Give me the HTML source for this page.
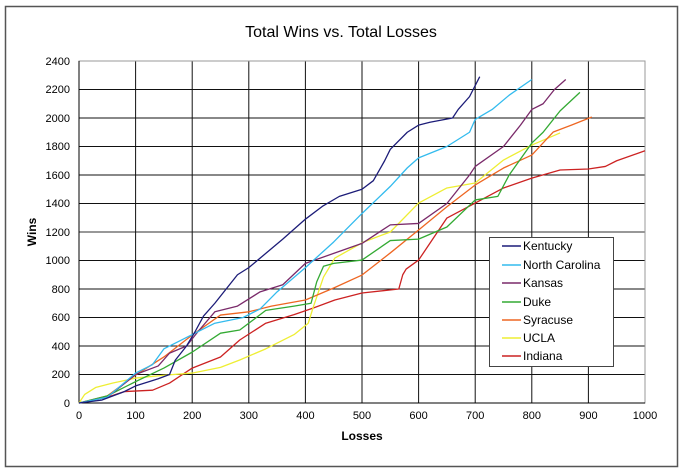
<!DOCTYPE html>
<html><head><meta charset="utf-8"><style>
html,body{margin:0;padding:0;background:#fff;}
svg{display:block;font-family:"Liberation Sans",sans-serif;}
</style></head><body>
<svg width="685" height="471" viewBox="0 0 685 471">
<rect x="0" y="0" width="685" height="471" fill="#fff"/>
<rect x="5.5" y="6.5" width="672" height="460" fill="#fff" stroke="#555" stroke-width="1.5"/>
<text x="341" y="37" text-anchor="middle" font-size="16" fill="#000">Total Wins vs. Total Losses</text>
<g stroke="#111" stroke-width="1">
<line x1="79" y1="374.5" x2="645" y2="374.5"/><line x1="79" y1="346" x2="645" y2="346"/>
<line x1="79" y1="317.5" x2="645" y2="317.5"/><line x1="79" y1="289" x2="645" y2="289"/>
<line x1="79" y1="260.5" x2="645" y2="260.5"/><line x1="79" y1="232" x2="645" y2="232" stroke="#777" stroke-width="1.5"/>
<line x1="79" y1="203.5" x2="645" y2="203.5"/><line x1="79" y1="175" x2="645" y2="175"/>
<line x1="79" y1="146.5" x2="645" y2="146.5"/><line x1="79" y1="118" x2="645" y2="118"/>
<line x1="79" y1="89.5" x2="645" y2="89.5"/>
<line x1="135.6" y1="61" x2="135.6" y2="403"/><line x1="192.2" y1="61" x2="192.2" y2="403"/>
<line x1="248.8" y1="61" x2="248.8" y2="403"/><line x1="305.4" y1="61" x2="305.4" y2="403"/>
<line x1="362" y1="61" x2="362" y2="403"/><line x1="418.6" y1="61" x2="418.6" y2="403"/>
<line x1="475.2" y1="61" x2="475.2" y2="403"/><line x1="531.8" y1="61" x2="531.8" y2="403"/>
<line x1="588.4" y1="61" x2="588.4" y2="403"/>
</g>
<rect x="79" y="61" width="566" height="342" fill="none" stroke="#999" stroke-width="1"/>
<line x1="79" y1="61" x2="79" y2="403" stroke="#000"/>
<line x1="79" y1="403" x2="645" y2="403" stroke="#000"/>
<g font-size="11" fill="#000" text-anchor="end">
<text x="70" y="407">0</text><text x="70" y="378">200</text><text x="70" y="350">400</text>
<text x="70" y="321">600</text><text x="70" y="293">800</text><text x="70" y="264">1000</text>
<text x="70" y="236">1200</text><text x="70" y="207">1400</text><text x="70" y="179">1600</text>
<text x="70" y="150">1800</text><text x="70" y="122">2000</text><text x="70" y="93">2200</text>
<text x="70" y="65">2400</text>
</g>
<g font-size="11" fill="#000" text-anchor="middle">
<text x="79" y="419">0</text><text x="135.6" y="419">100</text><text x="192.2" y="419">200</text>
<text x="248.8" y="419">300</text><text x="305.4" y="419">400</text><text x="362" y="419">500</text>
<text x="418.6" y="419">600</text><text x="475.2" y="419">700</text><text x="531.8" y="419">800</text>
<text x="588.4" y="419">900</text><text x="645" y="419">1000</text>
</g>
<text x="362" y="440" text-anchor="middle" font-size="12" font-weight="bold">Losses</text>
<text transform="translate(36,232) rotate(-90)" text-anchor="middle" font-size="12" font-weight="bold">Wins</text>
<g transform="matrix(0.566,0,0,-0.1425,79,403)" fill="none" stroke-width="1.3" stroke-linejoin="round">
<polyline vector-effect="non-scaling-stroke" stroke="#cc2222" points="0,0 50,40 80,80 130,90 160,140 200,245 250,323 284,442 330,560 380,620 414,667 452,723 500,772 565,800 572,900 578,940 600,1003 650,1298 700,1403 750,1509 800,1578 850,1635 900,1642 930,1660 950,1700 1000,1770"/>
<polyline vector-effect="non-scaling-stroke" stroke="#eeee33" points="0,0 10,60 30,110 60,140 100,175 150,195 200,210 250,250 284,302 330,380 380,480 405,560 414,674 432,884 452,1017 503,1130 550,1200 600,1403 650,1509 700,1544 750,1705 800,1810 850,1895"/>
<polyline vector-effect="non-scaling-stroke" stroke="#ee6622" points="0,0 50,50 100,196 150,323 200,477 250,617 300,640 340,680 400,723 450,807 500,898 550,1053 600,1214 650,1377 700,1530 750,1649 800,1740 838,1902 870,1950 906,2007"/>
<polyline vector-effect="non-scaling-stroke" stroke="#33aa33" points="0,0 50,50 100,150 150,245 200,357 250,490 284,512 330,650 380,680 410,700 420,850 432,960 450,980 500,1003 550,1140 600,1150 650,1235 700,1425 740,1450 760,1600 800,1824 820,1900 850,2050 885,2180"/>
<polyline vector-effect="non-scaling-stroke" stroke="#7a2a6a" points="0,0 50,40 100,200 140,260 160,350 190,400 210,500 240,640 280,680 320,780 360,830 400,980 450,1050 500,1120 550,1250 600,1260 650,1400 690,1600 700,1660 750,1800 780,1950 800,2060 820,2100 840,2200 860,2270"/>
<polyline vector-effect="non-scaling-stroke" stroke="#33bbee" points="0,0 50,40 100,210 130,270 150,380 180,440 200,480 240,560 290,600 320,660 350,780 400,950 450,1130 500,1330 550,1520 580,1650 600,1720 650,1800 690,1900 700,1990 730,2060 760,2160 800,2270"/>
<polyline vector-effect="non-scaling-stroke" stroke="#1c1c78" points="0,0 40,20 80,80 100,120 140,170 160,200 170,300 190,400 205,500 220,610 240,700 280,900 300,950 330,1050 360,1150 400,1290 430,1380 460,1450 500,1500 520,1560 540,1700 550,1780 580,1900 600,1950 620,1970 660,2000 670,2060 690,2150 708,2290"/>
</g>
<rect x="489.5" y="237.5" width="124" height="129" fill="#fff" stroke="#444" stroke-width="1"/>
<g font-size="12" fill="#000">
<line x1="502" y1="246" x2="521" y2="246" stroke="#1c1c78" stroke-width="1.5"/><text x="523" y="250">Kentucky</text>
<line x1="502" y1="265" x2="521" y2="265" stroke="#33bbee" stroke-width="1.5"/><text x="523" y="269">North Carolina</text>
<line x1="502" y1="283" x2="521" y2="283" stroke="#7a2a6a" stroke-width="1.5"/><text x="523" y="287">Kansas</text>
<line x1="502" y1="302" x2="521" y2="302" stroke="#33aa33" stroke-width="1.5"/><text x="523" y="306">Duke</text>
<line x1="502" y1="320" x2="521" y2="320" stroke="#ee6622" stroke-width="1.5"/><text x="523" y="324">Syracuse</text>
<line x1="502" y1="338" x2="521" y2="338" stroke="#eeee33" stroke-width="1.5"/><text x="523" y="342">UCLA</text>
<line x1="502" y1="356" x2="521" y2="356" stroke="#cc2222" stroke-width="1.5"/><text x="523" y="360">Indiana</text>
</g>
</svg>
</body></html>
